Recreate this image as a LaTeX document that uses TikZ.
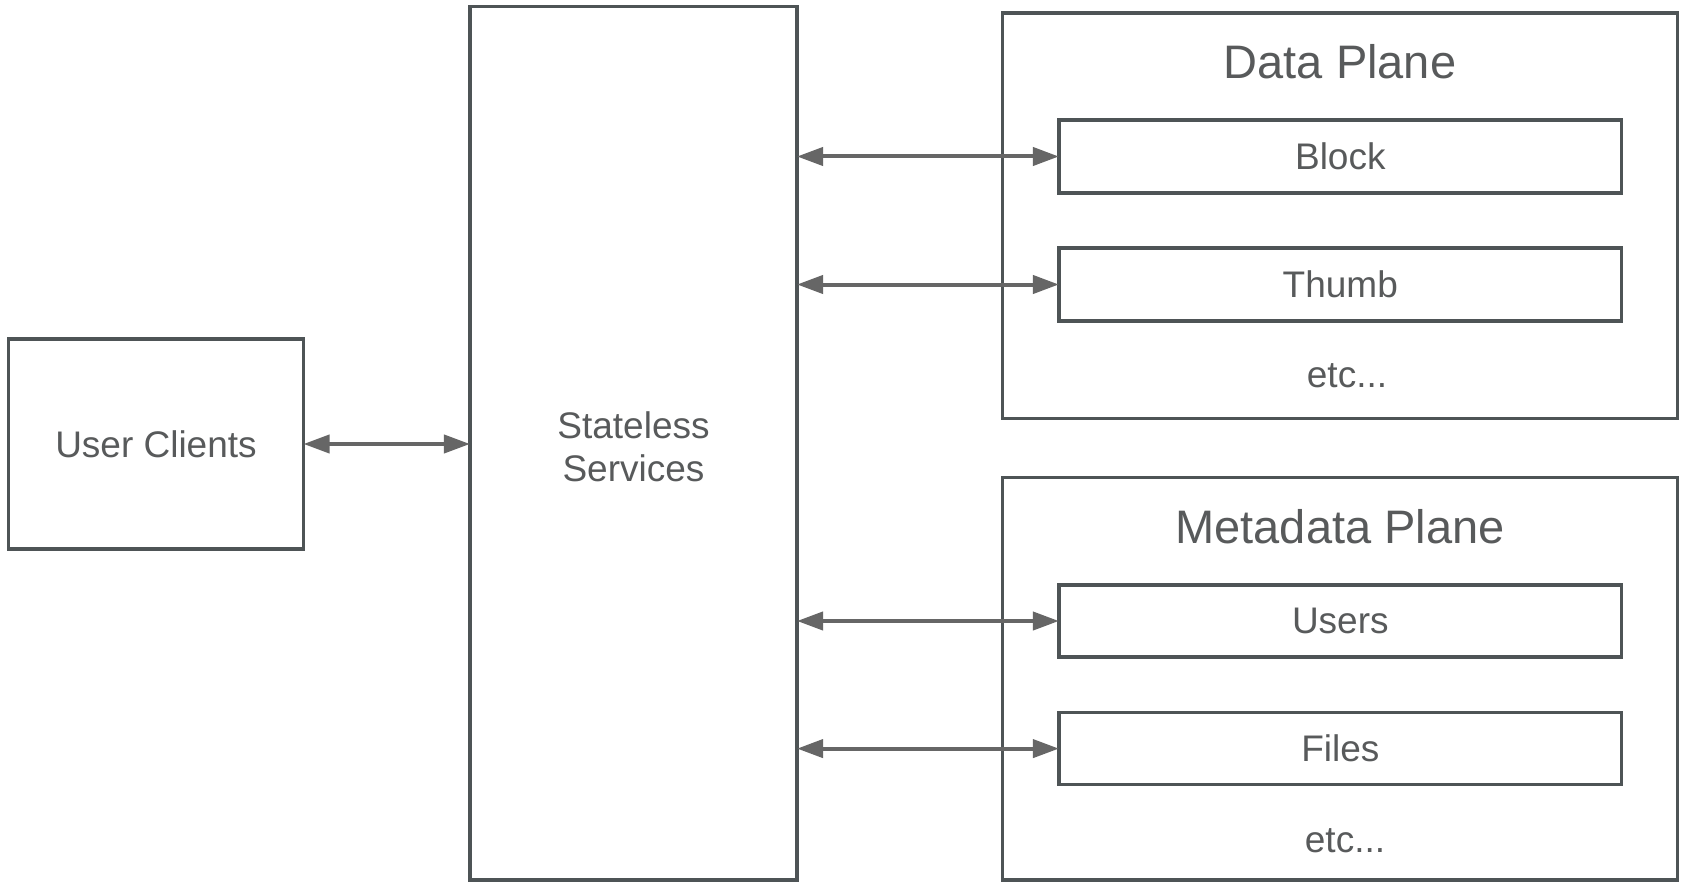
\documentclass[tikz,border=0pt]{standalone}
\usepackage{fontspec}
\setmainfont{Liberation Sans}
\usetikzlibrary{arrows.meta}
\definecolor{edgegray}{RGB}{78,84,86}
\definecolor{arrowgray}{RGB}{102,102,102}
\definecolor{textgray}{RGB}{88,90,91}
\tikzset{
  box/.style={draw=edgegray, line width=1.65pt, rectangle, inner sep=0pt,
    text=textgray, font=\fontsize{18.5}{21.5}\selectfont},
  lbl/.style={text=textgray, inner sep=0pt, font=\fontsize{18.5}{21.5}\selectfont},
  title/.style={text=textgray, inner sep=0pt, font=\fontsize{23.5}{28}\selectfont},
  link/.style={draw=arrowgray, line width=2pt, shorten <=-0.8pt, shorten >=-0.8pt,
    {Triangle[length=13pt,width=9pt]}-{Triangle[length=13pt,width=9pt]}}
}
\begin{document}
\begin{tikzpicture}[x=0.5pt,y=-0.5pt]
  \useasboundingbox (0,0) rectangle (1683,883);
  \fill[white] (0,0) rectangle (1683,883);

  % clients and the service tier
  \node[box, minimum width=295*0.5pt, minimum height=210*0.5pt] (uc) at (156,444) {\raisebox{-0.8pt}{User Clients}};
  \node[box, minimum width=327*0.5pt, minimum height=873.5*0.5pt] (ss) at (633.5,443.25) {};
  \node[lbl, align=center] (sst) at (633.5,446.5) {Stateless\\Services};

  % data plane
  \node[box, minimum width=675*0.5pt, minimum height=405.6*0.5pt] (dp) at (1340,215.8) {};
  \node[title] (dpt) at (1340,61.5) {Data Plane};
  \node[box, minimum width=562.7*0.5pt, minimum height=73*0.5pt] (blk) at (1340.3,156.5) {\raisebox{-0.8pt}{Block}};
  \node[box, minimum width=562.7*0.5pt, minimum height=73*0.5pt] (thb) at (1340.3,284.5) {\raisebox{-0.8pt}{Thumb}};
  \node[lbl] (dpe) at (1347,376) {etc...};

  % metadata plane
  \node[box, minimum width=675*0.5pt, minimum height=402.4*0.5pt] (mp) at (1340,678.8) {};
  \node[title] (mpt) at (1340,526.5) {Metadata Plane};
  \node[box, minimum width=562.7*0.5pt, minimum height=72*0.5pt] (usr) at (1340.3,621) {\raisebox{-0.8pt}{Users}};
  \node[box, minimum width=562.7*0.5pt, minimum height=72*0.5pt] (fil) at (1340.3,748.6) {\raisebox{-0.8pt}{Files}};
  \node[lbl] (mpe) at (1345,840.5) {etc...};

  % connections
  \draw[link] (uc.east) -- (uc.east -| ss.west);
  \draw[link] (ss.east |- blk.west) -- (blk.west);
  \draw[link] (ss.east |- thb.west) -- (thb.west);
  \draw[link] (ss.east |- usr.west) -- (usr.west);
  \draw[link] (ss.east |- fil.west) -- (fil.west);
\end{tikzpicture}
\end{document}
